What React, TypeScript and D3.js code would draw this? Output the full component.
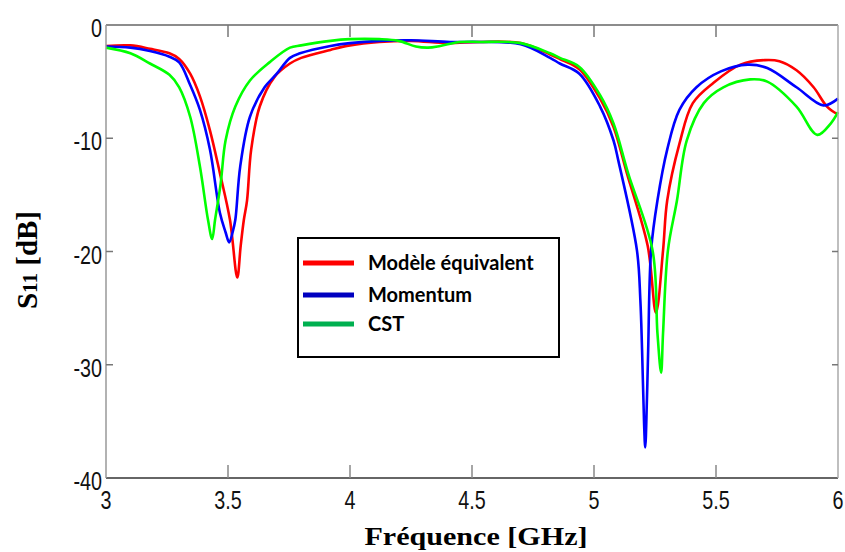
import React from "react";
import * as d3 from "d3";

const xTicks = [3, 3.5, 4, 4.5, 5, 5.5, 6];
const xTickLabels = ["3", "3.5", "4", "4.5", "5", "5.5", "6"];
const yTicks = [0, -10, -20, -30, -40];
const yTickLabels = ["0", "-10", "-20", "-30", "-40"];

const seriesNames = ["Modèle équivalent", "Momentum", "CST"];

const modeleFreq = [3.0, 3.1, 3.18, 3.26, 3.3, 3.345, 3.385, 3.426, 3.467, 3.508, 3.538, 3.552, 3.565, 3.578, 3.595, 3.63, 3.69, 3.754, 3.8, 3.92, 4.0, 4.12, 4.25, 4.4, 4.53, 4.7, 4.82, 4.86, 4.94, 5.025, 5.08, 5.135, 5.22, 5.254, 5.283, 5.3, 5.35, 5.405, 5.49, 5.6, 5.7, 5.76, 5.83, 5.9, 5.955, 6.0];
const modeleS11 = [-1.85, -1.8, -2.1, -2.5, -3.0, -4.3, -6.3, -9.3, -13.1, -17.2, -22.3, -19.5, -17.2, -15.5, -11.0, -7.2, -4.6, -3.4, -2.9, -2.2, -1.8, -1.5, -1.4, -1.6, -1.5, -1.6, -2.6, -3.0, -3.9, -6.5, -9.0, -13.1, -19.5, -25.4, -19.9, -15.5, -10.5, -6.9, -5.1, -3.5, -3.1, -3.2, -4.0, -5.5, -7.2, -7.9];

const momentumFreq = [3.0, 3.1, 3.18, 3.26, 3.3, 3.345, 3.385, 3.426, 3.467, 3.49, 3.505, 3.52, 3.53, 3.55, 3.59, 3.65, 3.7, 3.754, 3.795, 3.92, 4.0, 4.12, 4.25, 4.41, 4.53, 4.7, 4.82, 4.86, 4.94, 5.025, 5.08, 5.1, 5.176, 5.19, 5.197, 5.205, 5.21, 5.217, 5.222, 5.234, 5.26, 5.3, 5.35, 5.42, 5.52, 5.63, 5.71, 5.83, 5.94, 6.0];
const momentumS11 = [-1.9, -2.0, -2.3, -2.8, -3.3, -5.3, -7.5, -11.0, -16.6, -18.3, -19.2, -18.2, -17.2, -12.5, -8.1, -5.5, -4.3, -2.9, -2.5, -1.85, -1.6, -1.4, -1.35, -1.5, -1.5, -1.7, -2.9, -3.4, -4.3, -7.2, -10.2, -12.0, -19.9, -24.3, -28.7, -35.0, -37.3, -33.0, -28.7, -19.9, -15.5, -11.0, -7.5, -5.5, -4.1, -3.5, -3.8, -5.5, -7.1, -6.5];

const cstFreq = [3.0, 3.1, 3.18, 3.26, 3.3, 3.345, 3.385, 3.418, 3.435, 3.447, 3.47, 3.49, 3.53, 3.59, 3.67, 3.754, 3.8, 3.92, 4.0, 4.12, 4.2, 4.27, 4.32, 4.37, 4.45, 4.53, 4.7, 4.82, 4.86, 4.94, 5.025, 5.08, 5.14, 5.24, 5.26, 5.275, 5.283, 5.303, 5.34, 5.38, 5.45, 5.53, 5.64, 5.71, 5.83, 5.915, 5.97, 6.0];
const cstS11 = [-2.0, -2.5, -3.4, -4.4, -5.5, -8.1, -12.5, -17.2, -18.9, -17.2, -14.0, -10.2, -7.2, -4.9, -3.3, -2.0, -1.8, -1.4, -1.25, -1.25, -1.4, -1.9, -2.0, -1.85, -1.5, -1.5, -1.6, -2.5, -2.9, -3.7, -6.2, -8.7, -13.1, -19.9, -27.2, -30.7, -27.2, -19.9, -15.5, -10.2, -6.9, -5.5, -4.8, -5.0, -7.2, -9.7, -8.7, -7.7];

const lineColors = ["#ff0000", "#0000ff", "#00ff00"];
const legendColors = ["#ff0000", "#0000c0", "#00b050"];

const W = 845;
const H = 552;
const left = 106;
const right = 838;
const top = 25;
const bottom = 478;

export default function App() {
  const x = d3.scaleLinear().domain([3, 6]).range([left, right]);
  const y = d3.scaleLinear().domain([-40, 0]).range([bottom, top]);
  const line = d3
    .line<[number, number]>()
    .x((d) => x(d[0]))
    .y((d) => y(d[1]))
    .curve(d3.curveCatmullRom.alpha(0.5));

  const series = [
    d3.zip(modeleFreq, modeleS11) as [number, number][],
    d3.zip(momentumFreq, momentumS11) as [number, number][],
    d3.zip(cstFreq, cstS11) as [number, number][],
  ];

  const tickFont = "'Liberation Sans', Arial, sans-serif";

  return (
    <svg
      width={W}
      height={H}
      style={{ position: "absolute", left: 0, top: 0, background: "#fff" }}
    >
      <rect x={0} y={0} width={W} height={H} fill="#fff" />
      {series.map((s, i) => (
        <path
          key={i}
          d={line(s) || ""}
          fill="none"
          stroke={lineColors[i]}
          strokeWidth={2.6}
          strokeLinejoin="round"
        />
      ))}
      <line x1={left} x2={right} y1={top} y2={top} stroke="#666" strokeWidth={1.5} />
      <line x1={left} x2={right} y1={bottom} y2={bottom} stroke="#333" strokeWidth={1.5} />
      <line x1={left} x2={left} y1={top} y2={bottom} stroke="#999" strokeWidth={1.5} />
      <line x1={right} x2={right} y1={top} y2={bottom} stroke="#aaa" strokeWidth={1.5} />
      {xTicks.map((t, i) => (
        <g key={"xt" + i}>
          {i > 0 && i < xTicks.length - 1 && (
            <>
              <line x1={x(t)} x2={x(t)} y1={bottom} y2={bottom - 13} stroke="#888" strokeWidth={1.5} />
              <line x1={x(t)} x2={x(t)} y1={top} y2={top + 12} stroke="#777" strokeWidth={1.5} />
            </>
          )}
          <text
            transform={`translate(${x(t)},${bottom + 31}) scale(0.76,1)`}
            textAnchor="middle"
            fontFamily={tickFont}
            fontSize={26}
            fill="#111"
          >
            {xTickLabels[i]}
          </text>
        </g>
      ))}
      {yTicks.map((t, i) => (
        <g key={"yt" + i}>
          {i > 0 && i < yTicks.length - 1 && (
            <>
              <line x1={left} x2={left + 7} y1={y(t)} y2={y(t)} stroke="#777" strokeWidth={1.5} />
              <line x1={right} x2={right - 6} y1={y(t)} y2={y(t)} stroke="#777" strokeWidth={1.5} />
            </>
          )}
          <text
            transform={`translate(${left - 4},${y(t) + 12}) scale(0.76,1)`}
            textAnchor="end"
            fontFamily={tickFont}
            fontSize={26}
            fill="#111"
          >
            {yTickLabels[i]}
          </text>
        </g>
      ))}
      <text
        x={(left + right) / 2 + 4}
        y={545}
        textAnchor="middle"
        fontFamily="'Liberation Serif', 'Times New Roman', serif"
        fontWeight="bold"
        fontSize={25}
        textLength={223}
        lengthAdjust="spacingAndGlyphs"
        fill="#000"
      >
        Fréquence [GHz]
      </text>
      <text
        transform="translate(37,260) rotate(-90)"
        textAnchor="middle"
        fontFamily="'Liberation Serif', 'Times New Roman', serif"
        fontWeight="bold"
        fontSize={29}
        fill="#000"
      >
        <tspan>S</tspan>
        <tspan fontSize={21}>11</tspan>
        <tspan> [dB]</tspan>
      </text>
      <rect x={298} y={238} width={261} height={119} fill="#fff" stroke="#000" strokeWidth={2} />
      {seriesNames.map((n, i) => {
        const yy = [263, 295, 324][i];
        return (
          <g key={"lg" + i}>
            <line x1={303} x2={354} y1={yy} y2={yy} stroke={legendColors[i]} strokeWidth={5} />
            <text
              x={368}
              y={yy + 7}
              fontFamily="Lato, 'Open Sans', sans-serif"
              fontWeight="bold"
              fontSize={20}
              fill="#000"
            >
              {n}
            </text>
          </g>
        );
      })}
    </svg>
  );
}
